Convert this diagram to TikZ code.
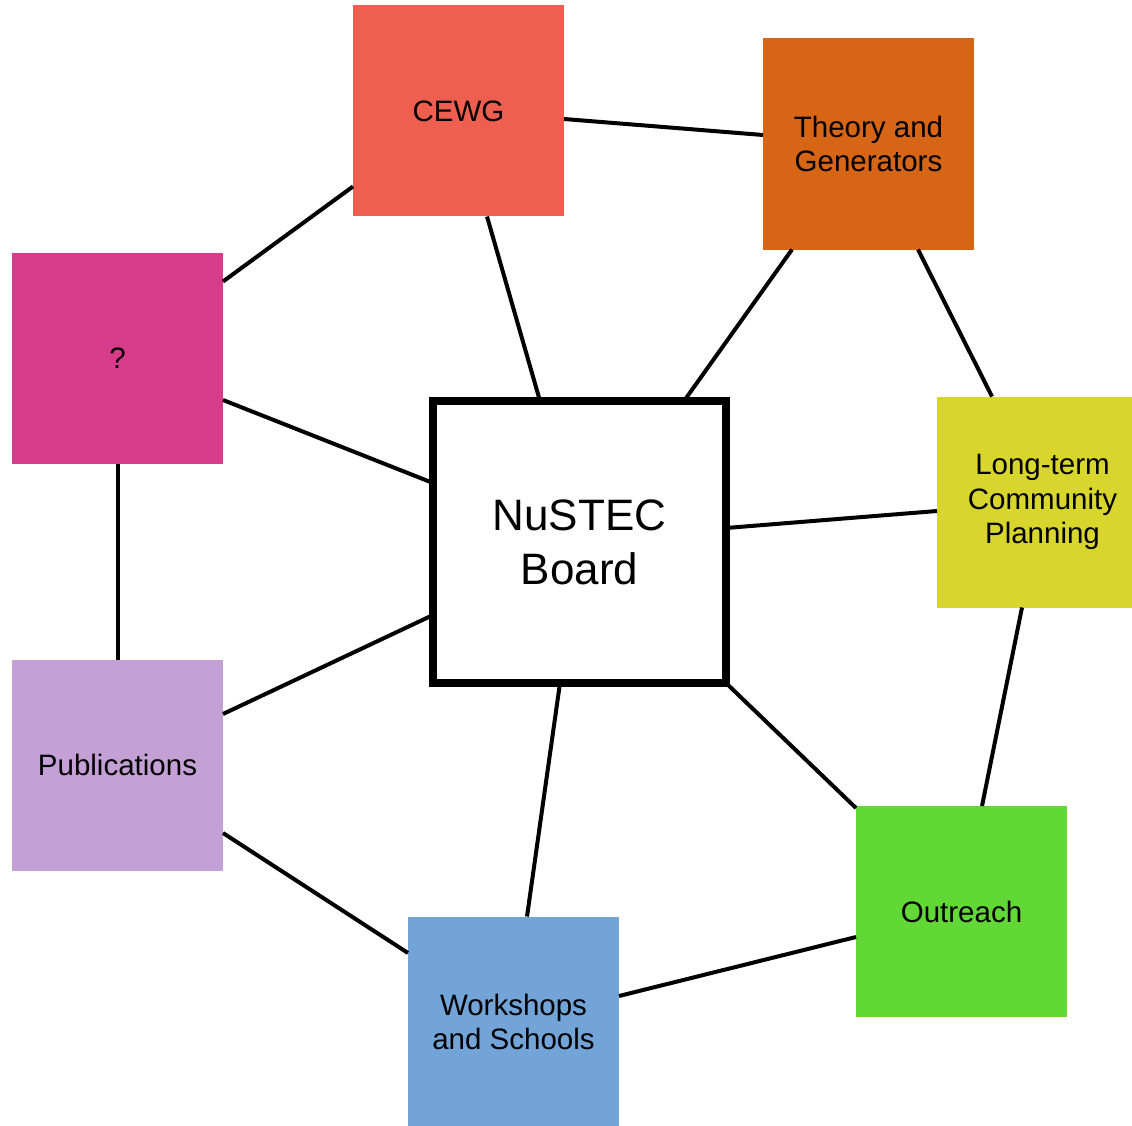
\documentclass[tikz,border=0pt]{standalone}
\usepackage{fontspec}
\setmainfont{Liberation Sans}
\usetikzlibrary{calc}
\definecolor{cewgc}{HTML}{EF5F50}
\definecolor{theoryc}{HTML}{D66515}
\definecolor{qc}{HTML}{D83B8B}
\definecolor{planc}{HTML}{D8D62C}
\definecolor{pubc}{HTML}{C5A0D6}
\definecolor{outc}{HTML}{62D837}
\definecolor{wsc}{HTML}{72A4D8}
\begin{document}
\begin{tikzpicture}[x=1pt,y=-1pt,
  sq/.style={minimum width=211pt,minimum height=211pt,inner sep=0pt,outer sep=0pt,
    align=center,font=\fontsize{29.5}{34.5}\selectfont},
  link/.style={line width=4pt,black}]
\useasboundingbox (0,0) rectangle (1132,1126);
\node[sq,fill=cewgc] (cewg) at (458.5,111) {CEWG};
\node[sq,fill=theoryc] (theory) at (868.5,144) {Theory and\\Generators};
\node[sq,fill=qc] (q) at (117.5,358) {?};
\node[sq,fill=planc] (plan) at (1042.5,502) {Long-term\\Community\\Planning};
\node[sq,fill=pubc] (pub) at (117.5,765) {Publications};
\node[sq,fill=outc] (out) at (961.5,911.5) {Outreach};
\node[sq,fill=wsc] (ws) at (513.5,1022) {Workshops\\and Schools};
\node[draw=black,line width=8pt,fill=white,minimum width=293pt,minimum height=282pt,
  inner sep=0pt,outer sep=0pt,align=center,font=\fontsize{44}{54}\selectfont]
  (board) at (579.5,542) {NuSTEC\\Board};

\draw[link] ($(cewg.east)+(0,8)$) -- ($(theory.west)+(0,-9)$);
\draw[link] ($(cewg.south west)+(0,-30)$) -- ($(q.north east)+(0,29)$);
\draw[link] ($(cewg.south)+(28.5,0)$) -- ($(board.north)+(-39.5,0)$);
\draw[link] ($(theory.south)+(-76.5,0)$) -- ($(board.north)+(104.5,0)$);
\draw[link] ($(theory.south)+(49.5,0)$) -- ($(plan.north)+(-50.5,0)$);
\draw[link] ($(q.east)+(0,42)$) -- ($(board.west)+(0,-59)$);
\draw[link] (q.south) -- (pub.north);
\draw[link] ($(board.east)+(0,-14)$) -- ($(plan.west)+(0,9)$);
\draw[link] ($(board.west)+(0,73)$) -- ($(pub.east)+(0,-51)$);
\draw[link] ($(board.south)+(-19.5,0)$) -- ($(ws.north)+(13.5,0)$);
\draw[link] (board.south east) -- ($(out.north west)+(0,2)$);
\draw[link] ($(plan.south)+(-20.5,0)$) -- ($(out.north)+(20.5,0)$);
\draw[link] ($(pub.east)+(0,68)$) -- ($(ws.west)+(0,-69)$);
\draw[link] ($(ws.east)+(0,-26)$) -- ($(out.west)+(0,25.5)$);
\end{tikzpicture}
\end{document}
